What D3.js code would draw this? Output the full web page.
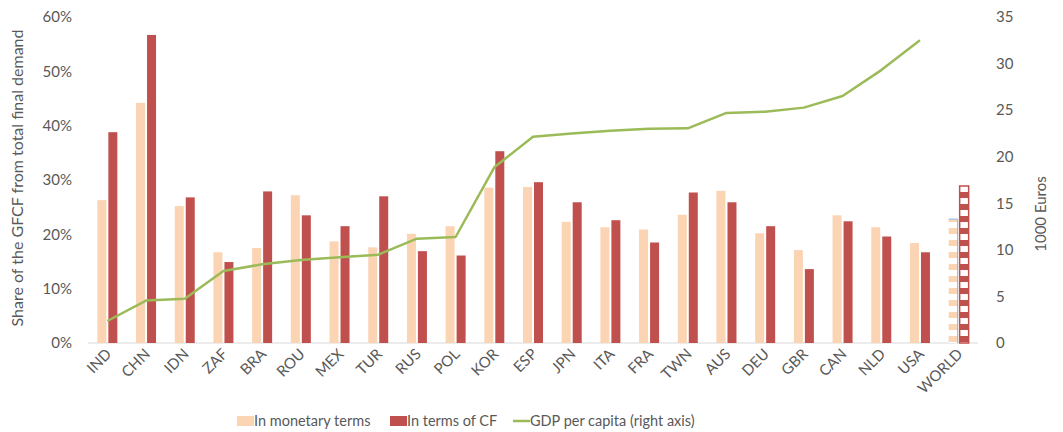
<!DOCTYPE html>
<html>
<head>
<meta charset="utf-8">
<script src="https://cdn.jsdelivr.net/npm/d3@7"></script>
<style>
  body { margin: 0; background: #fff; }
  text { font-family: Lato, "Noto Sans", sans-serif; fill: #595959; }
</style>
</head>
<body>
<div id="chart"></div>
<script>
var countries = ["IND", "CHN", "IDN", "ZAF", "BRA", "ROU", "MEX", "TUR", "RUS", "POL", "KOR", "ESP",
                 "JPN", "ITA", "FRA", "TWN", "AUS", "DEU", "GBR", "CAN", "NLD", "USA", "WORLD"];
// share of GFCF from total final demand (%)
var monetary = [26.3, 44.2, 25.2, 16.7, 17.5, 27.2, 18.7, 17.6, 20.1, 21.5, 28.6, 28.7,
                22.3, 21.3, 20.9, 23.6, 28.0, 20.2, 17.1, 23.5, 21.3, 18.4, 22.8];
var carbon = [38.8, 56.7, 26.8, 14.9, 27.9, 23.5, 21.5, 27.0, 16.9, 16.1, 35.3, 29.6,
              25.9, 22.6, 18.5, 27.7, 25.9, 21.5, 13.6, 22.4, 19.6, 16.7, 28.9];
// GDP per capita, 1000 euros (no value for WORLD)
var gdp = [2.36, 4.55, 4.76, 7.73, 8.45, 8.9, 9.2, 9.48, 11.2, 11.38, 18.86, 22.15,
           22.5, 22.8, 23.0, 23.05, 24.7, 24.84, 25.27, 26.52, 29.3, 32.5, null];
var leftTicks = [0, 10, 20, 30, 40, 50, 60];
var rightTicks = [0, 5, 10, 15, 20, 25, 30, 35];

function init() {
    var w = 1063, h = 432;
    var left = 88, right = 978, top = 17, bottom = 343;
    var lightColor = "#fbd4b4", darkColor = "#c0504d", lineColor = "#9bbb59";

    var svg = d3.select("#chart").append("svg")
                .attr("width", w)
                .attr("height", h);

    // striped patterns for the WORLD bars
    var defs = svg.append("defs");
    [["patLight", lightColor], ["patDark", darkColor]].forEach(function(p) {
        var pat = defs.append("pattern")
                      .attr("id", p[0])
                      .attr("patternUnits", "userSpaceOnUse")
                      .attr("width", 8).attr("height", 12);
        pat.append("rect").attr("width", 8).attr("height", 12).attr("fill", "#fff");
        pat.append("rect").attr("width", 8).attr("height", 6).attr("fill", p[1]);
    });

    var xScale = d3.scaleBand().domain(countries).range([left, right]);
    var yLeft = d3.scaleLinear().domain([0, 60]).range([bottom, top]);
    var yRight = d3.scaleLinear().domain([0, 35]).range([bottom, top]);
    var barW = 9, gap = 2;

    var rows = countries.map(function(c, i) {
        return { c: c, m: monetary[i], f: carbon[i], g: gdp[i] };
    });

    // baseline
    svg.append("line")
       .attr("x1", left).attr("x2", right)
       .attr("y1", bottom).attr("y2", bottom)
       .attr("stroke", "#d9d9d9").attr("stroke-width", 1);

    function cx(d) { return xScale(d.c) + xScale.bandwidth() / 2; }

    // monetary bars
    svg.selectAll(".barM")
       .data(rows)
       .enter()
       .append("rect")
       .attr("x", function(d) { return cx(d) - gap / 2 - barW; })
       .attr("y", function(d) { return yLeft(d.m); })
       .attr("width", barW)
       .attr("height", function(d) { return bottom - yLeft(d.m); })
       .attr("fill", function(d) { return d.c === "WORLD" ? "url(#patLight)" : lightColor; });

    // thin blue edge on the WORLD monetary bar (top and right only)
    var world = rows[rows.length - 1];
    svg.append("path")
       .attr("d", "M" + (cx(world) - gap / 2 - barW) + "," + yLeft(world.m) +
                  "H" + (cx(world) - gap / 2) + "V" + bottom)
       .attr("fill", "none")
       .attr("stroke", "#8eb4e3")
       .attr("stroke-width", 1);

    // carbon footprint bars
    svg.selectAll(".barF")
       .data(rows)
       .enter()
       .append("rect")
       .attr("x", function(d) { return cx(d) + gap / 2; })
       .attr("y", function(d) { return yLeft(d.f); })
       .attr("width", barW)
       .attr("height", function(d) { return bottom - yLeft(d.f); })
       .attr("fill", function(d) { return d.c === "WORLD" ? "url(#patDark)" : darkColor; })
       .attr("stroke", function(d) { return d.c === "WORLD" ? darkColor : "none"; })
       .attr("stroke-width", 1.5);

    // GDP line
    var line = d3.line()
                 .defined(function(d) { return d.g !== null; })
                 .x(cx)
                 .y(function(d) { return yRight(d.g); });
    svg.append("path")
       .datum(rows)
       .attr("d", line)
       .attr("fill", "none")
       .attr("stroke", lineColor)
       .attr("stroke-width", 2.5)
       .attr("stroke-linejoin", "round");

    // left axis
    var axL = svg.append("g")
                 .attr("transform", "translate(" + left + ",0)")
                 .call(d3.axisLeft(yLeft).tickValues(leftTicks).tickSize(0).tickPadding(16)
                         .tickFormat(function(d) { return d + "%"; }));
    axL.select(".domain").remove();

    // right axis
    var axR = svg.append("g")
                 .attr("transform", "translate(" + right + ",0)")
                 .call(d3.axisRight(yRight).tickValues(rightTicks).tickSize(0).tickPadding(18));
    axR.select(".domain").remove();

    // x axis labels
    var axX = svg.append("g")
                 .attr("transform", "translate(0," + bottom + ")")
                 .call(d3.axisBottom(xScale).tickSize(0));
    axX.select(".domain").remove();
    axX.selectAll("text")
       .attr("text-anchor", "end")
       .attr("dy", null)
       .attr("y", 0)
       .attr("transform", "translate(5,12) rotate(-45)");

    svg.selectAll(".tick text")
       .style("font-size", "15px")
       .style("fill", "#595959")
       .style("font-family", "Lato, 'Noto Sans', sans-serif");

    // axis titles
    svg.append("text")
       .attr("transform", "translate(23,178) rotate(-90)")
       .attr("text-anchor", "middle")
       .style("font-size", "16px")
       .text("Share of the GFCF from total final demand");
    svg.append("text")
       .attr("transform", "translate(1046,214) rotate(-90)")
       .attr("text-anchor", "middle")
       .style("font-size", "15px")
       .text("1000 Euros");

    // legend
    var legend = [
        { label: "In monetary terms", x: 237, type: "rect", color: lightColor },
        { label: "In terms of CF", x: 390, type: "rect", color: darkColor },
        { label: "GDP per capita (right axis)", x: 513, type: "line", color: lineColor }
    ];
    var lg = svg.selectAll(".legend")
                .data(legend)
                .enter()
                .append("g")
                .attr("transform", function(d) { return "translate(" + d.x + ",421)"; });
    lg.filter(function(d) { return d.type === "rect"; })
      .append("rect")
      .attr("x", 0).attr("y", -5)
      .attr("width", 17).attr("height", 10)
      .attr("fill", function(d) { return d.color; });
    lg.filter(function(d) { return d.type === "line"; })
      .append("line")
      .attr("x1", 0).attr("x2", 17)
      .attr("stroke", function(d) { return d.color; })
      .attr("stroke-width", 2.5);
    lg.append("text")
      .attr("x", 17)
      .attr("dy", "0.35em")
      .style("font-size", "14.5px")
      .text(function(d) { return d.label; });
}

window.onload = init;
</script>
</body>
</html>
